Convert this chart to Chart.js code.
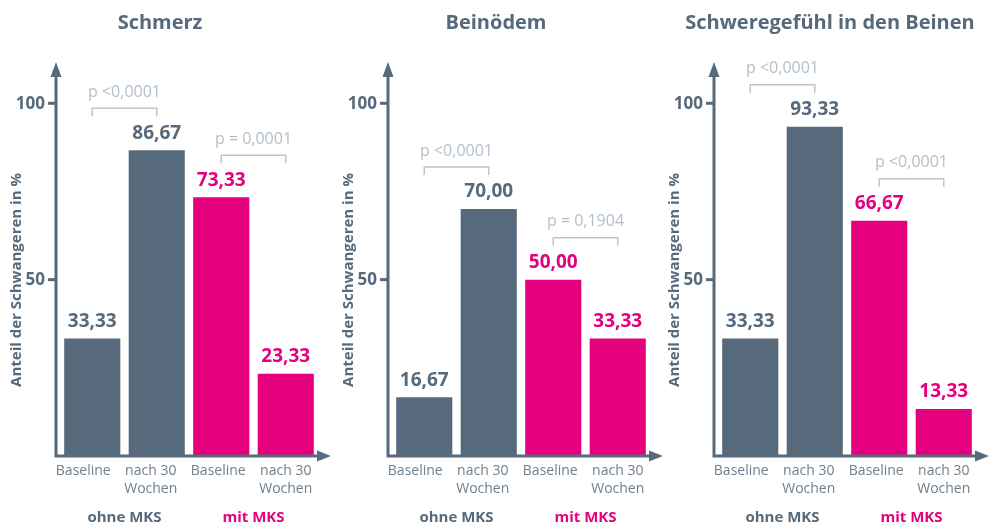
<!DOCTYPE html>
<html>
<head>
<meta charset="utf-8">
<script src="https://cdn.jsdelivr.net/npm/chart.js@4"></script>
<style>
  html, body { margin: 0; padding: 0; background: #fff; }
  body { width: 993px; height: 532px; position: relative; overflow: hidden; }
  canvas { position: absolute; top: 0; }
</style>
</head>
<body>
<canvas id="c0" width="335" height="532" style="left:0px"></canvas>
<canvas id="c1" width="335" height="532" style="left:332px"></canvas>
<canvas id="c2" width="335" height="532" style="left:658px"></canvas>
<script>
// Data
const titles = ['Schmerz', 'Beinödem', 'Schweregefühl in den Beinen'];
const categories = ['Baseline', ['nach 30', 'Wochen'], 'Baseline', ['nach 30', 'Wochen']];
const groups = ['ohne MKS', 'mit MKS'];
const yTicks = [50, 100];
const yTitle = 'Anteil der Schwangeren in %';

const schmerz = [33.33, 86.67, 73.33, 23.33];
const beinoedem = [16.67, 70.00, 50.00, 33.33];
const schwere = [33.33, 93.33, 66.67, 13.33];

const schmerzP = ['p <0,0001', 'p = 0,0001'];
const beinoedemP = ['p <0,0001', 'p = 0,1904'];
const schwereP = ['p <0,0001', 'p <0,0001'];

const SLATE = '#566a7b';
const PINK = '#e5007e';
const LIGHT = '#b3bfca';
const FONT = '"Open Sans", sans-serif';
const barColors = [SLATE, SLATE, PINK, PINK];

const fmt = v => v.toFixed(2).replace('.', ',');

// draws axes, arrows, labels, brackets
const decorations = {
  id: 'decorations',
  afterDraw(chart) {
    const { ctx, chartArea } = chart;
    const xs = chart.scales.x, ys = chart.scales.y;
    const opts = chart.options.plugins.decorations;
    const values = chart.data.datasets[0].data;
    const y0 = ys.getPixelForValue(0);
    const ax = chartArea.left - 4;

    ctx.save();
    // title
    ctx.fillStyle = SLATE;
    ctx.font = 'bold 20px ' + FONT;
    ctx.textAlign = 'center';
    ctx.textBaseline = 'middle';
    ctx.fillText(opts.title, opts.titleX, 23);

    // y axis title
    ctx.save();
    ctx.translate(17, 280);
    ctx.rotate(-Math.PI / 2);
    ctx.font = 'bold 15px ' + FONT;
    ctx.fillText(yTitle, 0, 0);
    ctx.restore();

    // axes
    ctx.strokeStyle = SLATE;
    ctx.fillStyle = SLATE;
    ctx.lineWidth = 3;
    ctx.beginPath();
    ctx.moveTo(ax, y0 + 1.5);
    ctx.lineTo(ax, 72);
    ctx.moveTo(ax - 1.5, y0);
    ctx.lineTo(chartArea.right + 2, y0);
    ctx.stroke();
    ctx.beginPath();
    ctx.moveTo(ax, 62);
    ctx.lineTo(ax - 5.5, 77);
    ctx.lineTo(ax + 5.5, 77);
    ctx.closePath();
    ctx.fill();
    ctx.beginPath();
    ctx.moveTo(chartArea.right + 13, y0);
    ctx.lineTo(chartArea.right - 1, y0 - 5.5);
    ctx.lineTo(chartArea.right - 1, y0 + 5.5);
    ctx.closePath();
    ctx.fill();

    // y ticks
    ctx.font = 'bold 17px ' + FONT;
    ctx.textAlign = 'right';
    yTicks.forEach(t => {
      const y = ys.getPixelForValue(t);
      ctx.beginPath();
      ctx.moveTo(ax - 8, y);
      ctx.lineTo(ax, y);
      ctx.stroke();
      ctx.fillText(String(t), ax - 11, y + 1);
    });

    // value labels
    ctx.textAlign = 'center';
    ctx.font = 'bold 19px ' + FONT;
    const meta = chart.getDatasetMeta(0);
    values.forEach((v, i) => {
      const bar = meta.data[i];
      ctx.fillStyle = barColors[i];
      ctx.fillText(fmt(v), bar.x, bar.y - 17);
    });

    // x labels (spaced a little wider than the bars, anchored on the last one)
    ctx.fillStyle = '#6f7f8d';
    ctx.font = '14px ' + FONT;
    const last = xs.getPixelForValue(categories.length - 1);
    categories.forEach((c, i) => {
      const x = last - (categories.length - 1 - i) * 67.5;
      const lines = Array.isArray(c) ? c : [c];
      lines.forEach((l, k) => ctx.fillText(l, x, 471 + k * 18));
    });

    // group labels
    ctx.font = 'bold 15px ' + FONT;
    groups.forEach((g, gi) => {
      const x = (xs.getPixelForValue(gi * 2) + xs.getPixelForValue(gi * 2 + 1)) / 2;
      ctx.fillStyle = gi === 0 ? SLATE : PINK;
      ctx.fillText(g, x, 518);
    });

    // p-value brackets
    ctx.strokeStyle = '#bcc6cf';
    ctx.lineWidth = 1.5;
    ctx.font = '16px ' + FONT;
    ctx.fillStyle = LIGHT;
    opts.pLabels.forEach((p, gi) => {
      const x1 = xs.getPixelForValue(gi * 2);
      const x2 = xs.getPixelForValue(gi * 2 + 1);
      const top = ys.getPixelForValue(Math.max(values[gi * 2], values[gi * 2 + 1]));
      const by = top - 42;
      ctx.beginPath();
      ctx.moveTo(x1, by + 8);
      ctx.lineTo(x1, by);
      ctx.lineTo(x2, by);
      ctx.lineTo(x2, by + 8);
      ctx.stroke();
      ctx.fillText(p, (x1 + x2) / 2, by - 16);
    });
    ctx.restore();
  }
};

function makePanel(id, title, titleX, values, pLabels) {
  new Chart(document.getElementById(id), {
    type: 'bar',
    data: {
      labels: categories,
      datasets: [{
        data: values,
        backgroundColor: barColors,
        borderWidth: 0,
        barPercentage: 0.87,
        categoryPercentage: 1
      }]
    },
    options: {
      responsive: false,
      animation: false,
      layout: { padding: { left: 60, right: 17, top: 68, bottom: 76 } },
      scales: {
        x: { display: false },
        y: { display: false, min: 0, max: 110 }
      },
      plugins: {
        legend: { display: false },
        tooltip: { enabled: false },
        decorations: { title, titleX, pLabels }
      }
    },
    plugins: [decorations]
  });
}

makePanel('c0', titles[0], 160, schmerz, schmerzP);
makePanel('c1', titles[1], 164, beinoedem, beinoedemP);
makePanel('c2', titles[2], 172, schwere, schwereP);
</script>
</body>
</html>
